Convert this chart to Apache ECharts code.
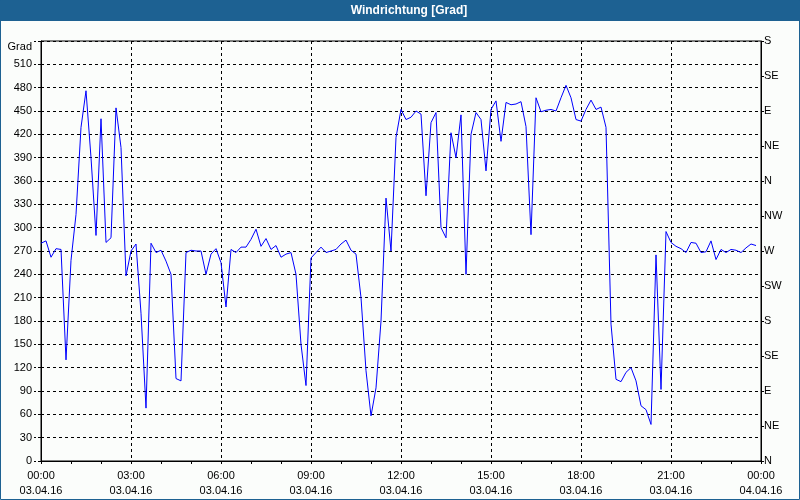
<!DOCTYPE html>
<html>
<head>
<meta charset="utf-8">
<script src="https://cdn.jsdelivr.net/npm/echarts@6/dist/echarts.min.js"></script>
<style>
html,body{margin:0;padding:0;background:#fbfdfb;}
#c{width:800px;height:500px;}
</style>
</head>
<body>
<div id="c"></div>
<script>
// Sampling: one value every 10 minutes starting 03.04.16 00:00
const stepMinutes = 10;
const windDir = [
  280, 283, 262, 273, 272, 130,   // 00:00
  258, 317, 429, 476, 390, 290,   // 01:00
  440, 281, 287, 454, 403, 238,   // 02:00
  270, 279, 190, 68, 280, 268,    // 03:00
  271, 257, 240, 106, 103, 268,   // 04:00
  271, 270, 270, 240, 266, 273,   // 05:00
  255, 198, 272, 268, 275, 275,   // 06:00
  285, 298, 276, 286, 272, 277,   // 07:00
  262, 266, 268, 240, 150, 97,    // 08:00
  261, 268, 275, 268, 270, 272,   // 09:00
  279, 284, 271, 266, 210, 116,   // 10:00
  58, 94, 180, 338, 270, 416,     // 11:00
  452, 439, 442, 450, 446, 341,   // 12:00
  435, 448, 300, 287, 422, 390,   // 13:00
  445, 240, 420, 448, 439, 373,   // 14:00
  452, 463, 411, 461, 458, 459,   // 15:00
  462, 430, 291, 467, 449, 451,   // 16:00
  452, 450, 467, 483, 467, 439,   // 17:00
  437, 452, 464, 452, 455, 429,   // 18:00
  176, 105, 102, 114, 120, 103,   // 19:00
  71, 66, 47, 265, 92, 295,       // 20:00
  281, 276, 273, 268, 281, 280,   // 21:00
  268, 269, 283, 259, 272, 268,   // 22:00
  272, 271, 268, 274, 279, 277    // 23:00
];
const xTickTimes = ['00:00','03:00','06:00','09:00','12:00','15:00','18:00','21:00','00:00'];
const xTickDates = ['03.04.16','03.04.16','03.04.16','03.04.16','03.04.16','03.04.16','03.04.16','03.04.16','04.04.16'];
const compassLabels = ['N','NE','E','SE','S','SW','W','NW','N','NE','E','SE','S'];
const titleText = 'Windrichtung [Grad]';
const yName = 'Grad';

const seriesData = windDir.map((v, i) => [i * stepMinutes / 60, v]);
const FONT = 'Liberation Sans';
const BLUE = '#1d6192';

const chart = echarts.init(document.getElementById('c'), null, {renderer: 'canvas'});
chart.setOption({
  animation: false,
  backgroundColor: '#fbfdfb',
  textStyle: {fontFamily: FONT},
  graphic: {
    elements: [
      {type: 'rect', shape: {x: 0, y: 0, width: 800, height: 21}, style: {fill: BLUE}, silent: true},
      {type: 'rect', shape: {x: 0.5, y: 0.5, width: 799, height: 499}, style: {fill: null, stroke: BLUE, lineWidth: 1}, silent: true},
      {type: 'text', x: 409, y: 11, style: {text: titleText, fill: '#ffffff', font: 'bold 12px "Liberation Sans"', textAlign: 'center', textVerticalAlign: 'middle'}, silent: true}
    ]
  },
  grid: {left: 41, right: 39, top: 41, bottom: 39, show: true, borderColor: '#000', borderWidth: 1, backgroundColor: 'transparent', containLabel: false},
  xAxis: {
    type: 'value', min: 0, max: 24, interval: 3,
    axisLine: {show: true, lineStyle: {color: '#000', width: 1}},
    axisTick: {show: true, length: 3, lineStyle: {color: '#000'}},
    minorTick: {show: true, splitNumber: 3, length: 3, lineStyle: {color: '#000'}},
    splitLine: {show: true, lineStyle: {color: '#000', type: [3, 3], width: 1}},
    axisLabel: {
      show: true, margin: 7, color: '#000', fontSize: 11, fontFamily: FONT, lineHeight: 15,
      showMinLabel: true, showMaxLabel: true,
      formatter: function (v) { const i = Math.round(v / 3); return xTickTimes[i] + '\n' + xTickDates[i]; }
    }
  },
  yAxis: [
    {
      type: 'value', min: 0, max: 540, interval: 30, position: 'left',
      name: yName, nameLocation: 'end', nameGap: 0,
      nameTextStyle: {color: '#000', fontSize: 11, fontFamily: FONT, align: 'right', verticalAlign: 'top', padding: [0, 9, 0, 0]},
      axisLine: {show: true, lineStyle: {color: '#000', width: 1}},
      axisTick: {show: true, length: 7, lineStyle: {color: '#000', type: [3, 2]}},
      splitLine: {show: true, lineStyle: {color: '#000', type: [3, 3], width: 1}},
      axisLabel: {margin: 9, color: '#000', fontSize: 11, fontFamily: FONT, formatter: function (v) { return v === 540 ? '' : String(v); }}
    },
    {
      type: 'value', min: 0, max: 540, interval: 45, position: 'right',
      axisLine: {show: true, lineStyle: {color: '#000', width: 1}},
      axisTick: {show: true, length: 3, lineStyle: {color: '#000'}},
      splitLine: {show: false},
      axisLabel: {margin: 3, color: '#000', fontSize: 11, fontFamily: FONT, formatter: function (v) { return compassLabels[Math.round(v / 45)]; }}
    }
  ],
  series: [{
    type: 'line', data: seriesData, yAxisIndex: 0,
    showSymbol: false, symbol: 'none',
    lineStyle: {color: '#0000ff', width: 1},
    itemStyle: {color: '#0000ff'}
  }]
});
</script>
</body>
</html>
